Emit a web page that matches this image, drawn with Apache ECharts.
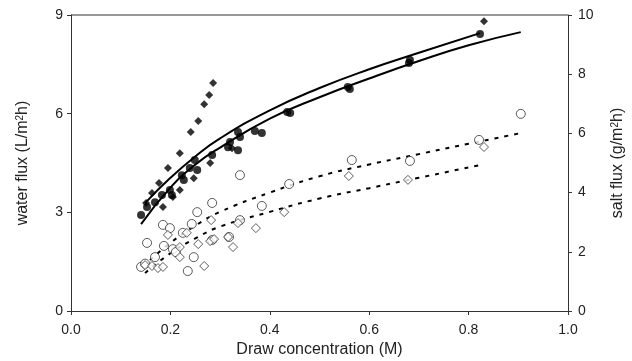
<!DOCTYPE html>
<html>
<head>
<meta charset="utf-8">
<script src="https://cdn.jsdelivr.net/npm/echarts@6/dist/echarts.min.js"></script>
<style>
  html, body { margin: 0; padding: 0; background: #fff; }
  #chart { width: 632px; height: 361px; }
</style>
</head>
<body>
<div id="chart"></div>
<script>
// water flux (left axis, L/m2h) - filled markers
const waterCircles = [
  [0.141, 2.92], [0.153, 3.16], [0.169, 3.31], [0.183, 3.53], [0.199, 3.68],
  [0.203, 3.53], [0.223, 4.13], [0.227, 3.98], [0.239, 4.35], [0.249, 4.59],
  [0.254, 4.29], [0.284, 4.74], [0.316, 4.98], [0.320, 5.14], [0.336, 4.89],
  [0.340, 5.29], [0.336, 5.44], [0.370, 5.47], [0.384, 5.41], [0.435, 6.05],
  [0.441, 6.02], [0.557, 6.81], [0.561, 6.75], [0.680, 7.54], [0.682, 7.63],
  [0.823, 8.42]
];
const waterDiamonds = [
  [0.151, 3.28], [0.163, 3.59], [0.177, 3.89], [0.195, 4.35], [0.185, 3.16],
  [0.205, 3.47], [0.219, 3.68], [0.247, 4.04], [0.280, 4.50], [0.219, 4.80],
  [0.241, 5.44], [0.256, 5.78], [0.268, 6.29], [0.278, 6.57], [0.286, 6.93],
  [0.324, 4.95], [0.831, 8.81]
];

// salt flux (right axis, g/m2h) - open markers
const saltCircles = [
  [0.141, 1.49], [0.149, 1.60], [0.153, 2.30], [0.169, 1.82], [0.185, 2.91],
  [0.199, 2.80], [0.187, 2.20], [0.205, 2.09], [0.211, 1.99], [0.225, 2.64],
  [0.243, 2.94], [0.254, 3.34], [0.284, 3.65], [0.247, 1.82], [0.235, 1.35],
  [0.284, 2.40], [0.318, 2.50], [0.340, 3.07], [0.340, 4.59], [0.384, 3.55],
  [0.439, 4.29], [0.565, 5.10], [0.682, 5.07], [0.821, 5.78], [0.905, 6.66]
];
const saltDiamonds = [
  [0.149, 1.55], [0.163, 1.52], [0.175, 1.45], [0.185, 1.49], [0.195, 2.57],
  [0.219, 2.16], [0.219, 1.82], [0.233, 2.64], [0.256, 2.26], [0.280, 2.36],
  [0.288, 2.43], [0.282, 3.07], [0.268, 1.52], [0.316, 2.50], [0.326, 2.16],
  [0.336, 2.97], [0.372, 2.80], [0.429, 3.34], [0.559, 4.56], [0.678, 4.43],
  [0.831, 5.54]
];

// fitted curves
const waterFitUpper = [
  [0.149, 3.28], [0.2, 4.05], [0.25, 4.70], [0.3, 5.25], [0.4, 6.10],
  [0.5, 6.78], [0.6, 7.35], [0.7, 7.85], [0.823, 8.45]
];
const waterFitLower = [
  [0.141, 2.64], [0.2, 3.75], [0.25, 4.45], [0.3, 4.97], [0.4, 5.85],
  [0.5, 6.50], [0.6, 7.07], [0.7, 7.60], [0.8, 8.08], [0.905, 8.48]
];
const saltFitUpper = [
  [0.159, 1.72], [0.2, 2.30], [0.25, 2.88], [0.3, 3.35], [0.4, 4.00],
  [0.5, 4.55], [0.6, 4.95], [0.7, 5.30], [0.8, 5.65], [0.905, 6.01]
];
const saltFitLower = [
  [0.149, 1.28], [0.2, 1.95], [0.25, 2.45], [0.3, 2.85], [0.4, 3.35],
  [0.5, 3.80], [0.6, 4.15], [0.7, 4.50], [0.823, 4.93]
];

const xTicks = [0, 0.2, 0.4, 0.6, 0.8, 1.0];

const font = "'Liberation Sans', Arial, sans-serif";
const chart = echarts.init(document.getElementById('chart'));

function fitLine(data, axis, dashed) {
  return {
    type: 'line', yAxisIndex: axis, data: data, smooth: true,
    showSymbol: false, silent: true, z: 1,
    lineStyle: { color: '#000', width: 2, type: dashed ? [4, 6] : 'solid' }
  };
}
function marks(data, axis, symbol, size, filled) {
  return {
    type: 'scatter', yAxisIndex: axis, data: data, symbol: symbol, symbolSize: size, z: 3,
    itemStyle: filled ? { color: '#000' } : { color: '#fff', borderColor: '#333', borderWidth: 1 }
  };
}

const supRich = { s: { fontFamily: font, fontSize: 10, verticalAlign: 'top', lineHeight: 10, color: '#222' } };

chart.setOption({
  animation: false,
  grid: { left: 71, right: 64, top: 15, bottom: 50, outerBoundsMode: 'none' },
  xAxis: {
    type: 'value', min: 0, max: 1, interval: 0.2,
    name: 'Draw concentration (M)', nameLocation: 'middle', nameGap: 31,
    nameTextStyle: { fontFamily: font, fontSize: 16, color: '#222' },
    axisLine: { lineStyle: { color: '#333' } },
    axisTick: { show: true, length: 4, lineStyle: { color: '#333' } },
    axisLabel: { fontFamily: font, fontSize: 14, color: '#222', margin: 12,
      formatter: v => xTicks.indexOf(v) >= 0 ? v.toFixed(1) : '' },
    splitLine: { show: false }
  },
  yAxis: [
    {
      type: 'value', min: 0, max: 9, interval: 3, position: 'left',
      name: 'water flux (L/m{s|2}h)', nameLocation: 'middle', nameGap: 40, nameRotate: 90,
      nameTextStyle: { fontFamily: font, fontSize: 16, color: '#222', rich: supRich },
      axisLine: { show: true, lineStyle: { color: '#333' } },
      axisTick: { show: true, length: 4, lineStyle: { color: '#333' } },
      axisLabel: { fontFamily: font, fontSize: 14, color: '#222', margin: 8 },
      splitLine: { show: false }
    },
    {
      type: 'value', min: 0, max: 10, interval: 2, position: 'right',
      name: 'salt flux (g/m{s|2}h)', nameLocation: 'middle', nameGap: 42, nameRotate: 90,
      nameTextStyle: { fontFamily: font, fontSize: 16, color: '#222', rich: supRich },
      axisLine: { show: true, lineStyle: { color: '#333' } },
      axisTick: { show: true, length: 4, lineStyle: { color: '#333' } },
      axisLabel: { fontFamily: font, fontSize: 14, color: '#222', margin: 10 },
      splitLine: { show: false }
    }
  ],
  series: [
    fitLine(waterFitUpper, 0, false),
    fitLine(waterFitLower, 0, false),
    fitLine(saltFitUpper, 1, true),
    fitLine(saltFitLower, 1, true),
    marks(saltCircles, 1, 'circle', 9, false),
    marks(saltDiamonds, 1, 'diamond', 9, false),
    marks(waterCircles, 0, 'circle', 8, true),
    marks(waterDiamonds, 0, 'diamond', 8, true)
  ]
});

// top border of the frame, placed via the axis scale
const topLeft = chart.convertToPixel({ xAxisIndex: 0, yAxisIndex: 0 }, [0, 9]);
const topRight = chart.convertToPixel({ xAxisIndex: 0, yAxisIndex: 0 }, [1, 9]);
chart.setOption({
  graphic: [{
    type: 'line', silent: true,
    shape: { x1: topLeft[0], y1: topLeft[1], x2: topRight[0], y2: topRight[1] },
    style: { stroke: '#333', lineWidth: 1 }
  }]
});
</script>
</body>
</html>
